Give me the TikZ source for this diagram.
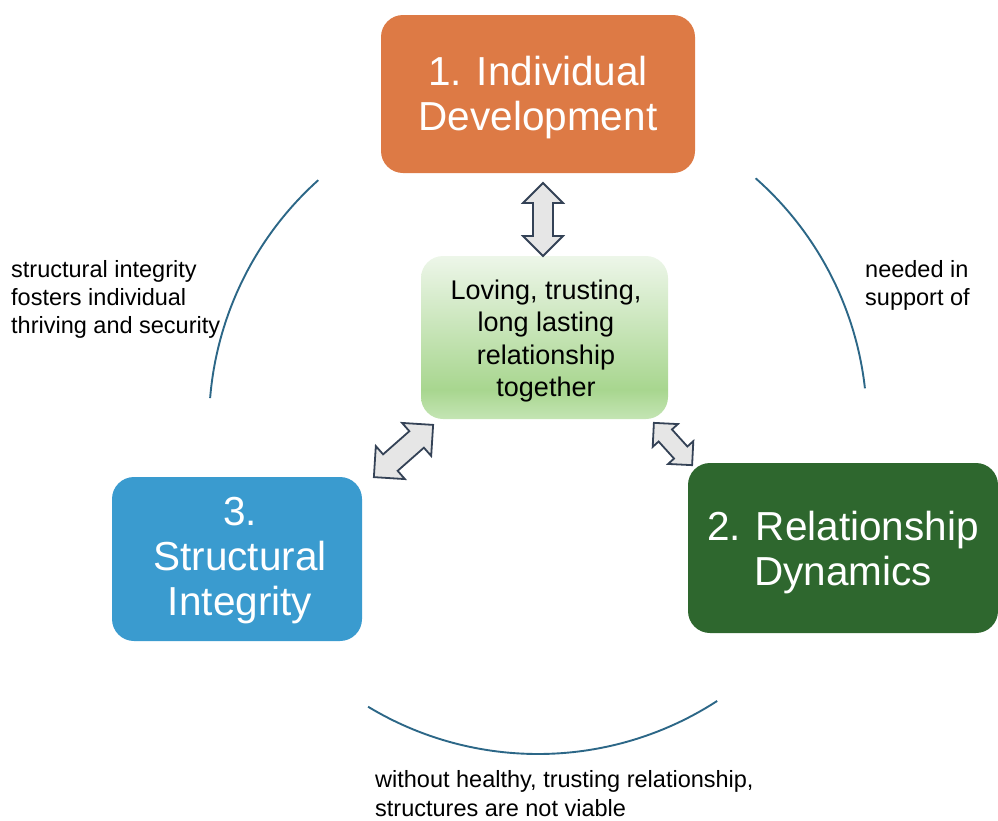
\documentclass[tikz,border=0pt]{standalone}
\usepackage{fontspec}
\setmainfont{Liberation Sans}
\definecolor{orangeC}{RGB}{221,122,69}
\definecolor{dgreenC}{RGB}{46,103,46}
\definecolor{blueC}{RGB}{58,155,207}
\definecolor{gtop}{RGB}{237,246,233}
\definecolor{gdark}{RGB}{168,214,143}
\definecolor{gbot}{RGB}{196,229,180}
\definecolor{arcC}{RGB}{44,103,135}
\definecolor{arrowFill}{RGB}{230,230,230}
\definecolor{arrowLine}{RGB}{52,66,86}
\pgfdeclareverticalshading{greenfade}{100bp}{color(0bp)=(gbot); color(25bp)=(gbot); color(34bp)=(gdark); color(75bp)=(gtop); color(100bp)=(gtop)}
\newcommand\BlockArrow[8]{%
\begin{scope}[shift={(#2,#3)},rotate=#4]
\coordinate (#1) at (0,0);
\draw[blockarrow] (-#5/2,0) -- ({-#5/2+#6},#7) -- ({-#5/2+#6},#8) -- ({#5/2-#6},#8) -- ({#5/2-#6},#7) -- (#5/2,0) -- ({#5/2-#6},-#7) -- ({#5/2-#6},-#8) -- ({-#5/2+#6},-#8) -- ({-#5/2+#6},-#7) -- cycle;
\end{scope}}
\tikzset{
  bigbox/.style={rounded corners=22pt, inner sep=0pt},
  bigtext/.style={inner sep=0pt, align=center, text=white,
    font=\fontsize{40.5}{45}\selectfont},
  centerbox/.style={rounded corners=22pt, inner sep=0pt, shade, shading=greenfade},
  centertext/.style={inner sep=0pt, align=center, text=black,
    font=\fontsize{27}{32.5}\selectfont},
  note/.style={inner sep=0pt, align=left, anchor=north west, text=black,
    font=\fontsize{23.5}{28.3}\selectfont},
  arcline/.style={draw=arcC, line width=1.9pt},
  blockarrow/.style={draw=arrowLine, fill=arrowFill, line width=1.8pt, line join=miter}
}
\begin{document}
\begin{tikzpicture}[x=1pt,y=1pt]
\useasboundingbox (0,0) rectangle (998,-820);
% arcs of the cycle
\coordinate (C) at (538,-425);
\draw[arcline] (C) ++(131.9:329) arc[start angle=131.9,end angle=175.3,radius=329];
\draw[arcline] (C) ++(48.6:329) arc[start angle=48.6,end angle=6.4,radius=329];
\draw[arcline] (C) ++(238.9:329) arc[start angle=238.9,end angle=303,radius=329];
% boxes
\node[bigbox, fill=orangeC, minimum width=314pt, minimum height=158pt] (ind) at (538,-94) {};
\node[bigtext] (indT) at ([yshift=-4pt]ind.center) {1. Individual\\Development};
\node[bigbox, fill=dgreenC, minimum width=310pt, minimum height=170pt] (rel) at (843,-548) {};
\node[bigtext] (relT) at ([yshift=-4.5pt]rel.center) {2. Relationship\\Dynamics};
\node[bigbox, fill=blueC, minimum width=250pt, minimum height=164pt] (str) at (237,-559) {};
\node[bigtext] (strT) at ([xshift=3pt,yshift=-2pt]str.center) {3.\\Structural\\Integrity};
\node[centerbox, minimum width=247pt, minimum height=163pt] (core) at (544.5,-337.5) {};
\node[centertext] (coreT) at ([xshift=1.5pt,yshift=-3.5pt]core.center) {Loving, trusting,\\long lasting\\relationship\\together};
% block arrows
\BlockArrow{aTop}{543}{-219.5}{90}{73}{20}{20}{10}
\BlockArrow{aLeft}{403.5}{-451}{41.4}{79}{22}{22}{11}
\BlockArrow{aRight}{673}{-444}{-47.9}{57}{17}{17}{9}
% notes
\node[note] (nLeft) at (11,-260) {structural integrity\\fosters individual\\thriving and security};
\node[note] (nRight) at (865,-260) {needed in\\support of};
\node[note] (nBottom) at (375,-770.5) {without healthy, trusting relationship,\\structures are not viable};
\end{tikzpicture}
\end{document}
